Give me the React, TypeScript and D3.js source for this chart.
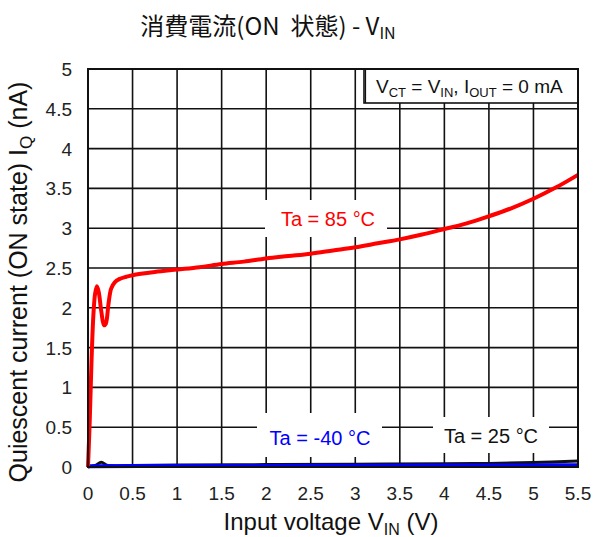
import React from "react";
import * as d3 from "d3";

const xTicks = [0, 0.5, 1, 1.5, 2, 2.5, 3, 3.5, 4, 4.5, 5, 5.5];
const yTicks = [0, 0.5, 1, 1.5, 2, 2.5, 3, 3.5, 4, 4.5, 5];

const red85: [number, number][] = [
  [0, 0], [0.02, 0.6], [0.04, 1.35], [0.06, 1.9], [0.08, 2.18], [0.1, 2.27],
  [0.12, 2.2], [0.15, 1.95], [0.18, 1.78], [0.2, 1.8], [0.23, 2.05], [0.26, 2.24],
  [0.3, 2.32], [0.35, 2.36], [0.43, 2.39], [0.5, 2.41], [0.75, 2.45], [1.0, 2.48],
  [1.25, 2.51], [1.5, 2.55], [1.75, 2.58], [2.0, 2.62], [2.25, 2.65], [2.5, 2.68],
  [2.75, 2.72], [3.0, 2.76], [3.25, 2.81], [3.5, 2.86], [3.75, 2.92], [4.0, 2.99],
  [4.25, 3.06], [4.5, 3.15], [4.75, 3.25], [5.0, 3.37], [5.25, 3.51], [5.5, 3.67],
];
const black25: [number, number][] = [
  [0, 0], [0.08, 0.02], [0.15, 0.06], [0.22, 0.02], [0.5, 0.02], [1, 0.025],
  [2, 0.03], [3, 0.035], [4, 0.04], [4.5, 0.045], [5, 0.055], [5.5, 0.075],
];
const blue40: [number, number][] = [
  [0, 0.01], [1, 0.012], [2, 0.014], [3, 0.016], [4, 0.018], [5, 0.02], [5.5, 0.022],
];

const W = 595, H = 537;
const L = 88, R = 578, T = 69, B = 467;
const font = "'Liberation Sans', Arial, sans-serif";

export default function App() {
  const x = d3.scaleLinear().domain([0, 5.5]).range([L, R]);
  const y = d3.scaleLinear().domain([0, 5]).range([B, T]);
  const line = d3.line<[number, number]>().x(d => x(d[0])).y(d => y(d[1])).curve(d3.curveCatmullRom.alpha(0.5));

  return (
    <svg width={W} height={H} style={{ position: "absolute", left: 0, top: 0, background: "#fff" }} fontFamily={font}>
      <rect x={0} y={0} width={W} height={H} fill="#fff" />
      {/* grid */}
      {xTicks.slice(1, -1).map(t => (
        <line key={"gx" + t} x1={x(t)} x2={x(t)} y1={T} y2={B} stroke="#111" strokeWidth={1.6} />
      ))}
      {yTicks.slice(1, -1).map(t => (
        <line key={"gy" + t} x1={L} x2={R} y1={y(t)} y2={y(t)} stroke="#111" strokeWidth={1.6} />
      ))}
      {/* label backgrounds */}
      <rect x={265} y={200} width={122} height={37} fill="#fff" />
      <rect x={257} y={413} width={125} height={44} fill="#fff" />
      <rect x={433} y={417} width={116} height={36} fill="#fff" />
      {/* legend box */}
      <rect x={364} y={T} width={R - 364} height={34} fill="#fff" stroke="#111" strokeWidth={1.6} />
      <line x1={365.5} x2={365.5} y1={T} y2={T + 34} stroke="#111" strokeWidth={1.2} />
      <text x={376} y={93} fontSize={19} fill="#111">
        V<tspan fontSize={13} dy={4}>CT</tspan><tspan dy={-4}> = V</tspan><tspan fontSize={13} dy={4}>IN</tspan><tspan dy={-4}>, I</tspan><tspan fontSize={13} dy={4}>OUT</tspan><tspan dy={-4}> = 0 mA</tspan>
      </text>
      {/* curves */}
      <path d={line(black25) || ""} fill="none" stroke="#111" strokeWidth={3} />
      <path d={line(blue40) || ""} fill="none" stroke="#0000ff" strokeWidth={4} />
      <path d={line(red85) || ""} fill="none" stroke="#ff0000" strokeWidth={4} strokeLinejoin="round" />
      {/* frame */}
      <rect x={L} y={T} width={R - L} height={B - T} fill="none" stroke="#111" strokeWidth={2} />
      {/* series labels */}
      <text x={328} y={226} fontSize={20} fill="#ff0000" textAnchor="middle">Ta = 85 °C</text>
      <text x={320} y={445} fontSize={20} fill="#0000ff" textAnchor="middle">Ta = -40 °C</text>
      <text x={491} y={443} fontSize={20} fill="#111" textAnchor="middle">Ta = 25 °C</text>
      {/* tick labels */}
      {xTicks.map(t => (
        <text key={"tx" + t} x={x(t)} y={500} fontSize={19} fill="#222" textAnchor="middle">{String(t)}</text>
      ))}
      {yTicks.map(t => (
        <text key={"ty" + t} x={72} y={y(t) + 7} fontSize={19} fill="#222" textAnchor="end">{String(t)}</text>
      ))}
      {/* axis titles */}
      <text x={331} y={530} fontSize={24} fill="#111" textAnchor="middle">
        Input voltage V<tspan fontSize={16} dy={5}>IN</tspan><tspan dy={-5}> (V)</tspan>
      </text>
      <text transform={`translate(27,282) rotate(-90)`} fontSize={25} fill="#111" textAnchor="middle">
        Quiescent current (ON state) I<tspan fontSize={17} dy={5}>Q</tspan><tspan dy={-5}> (nA)</tspan>
      </text>
      {/* title */}
      <text x={268} y={35} fontSize={24} fill="#111" textAnchor="middle" fontFamily="'Noto Sans CJK JP', 'Liberation Sans', sans-serif">
        消費電流(ON{"\u00a0\u00a0"}状態) - V<tspan fontSize={16} dy={4}>IN</tspan>
      </text>
    </svg>
  );
}
